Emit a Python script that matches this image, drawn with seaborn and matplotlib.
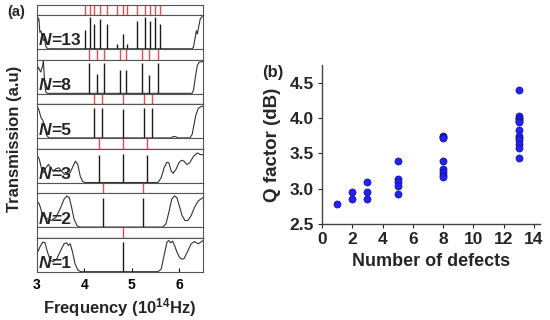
import numpy as np
import pandas as pd
import matplotlib
matplotlib.use("Agg")
import matplotlib.pyplot as plt
import seaborn as sns

# ---------------- data: panel (a) ----------------
row_labels = ["13", "8", "5", "3", "2", "1"]

# defect-mode peak positions (10^14 Hz) and relative heights
peak_f_13 = [4.02, 4.12, 4.21, 4.33, 4.47, 4.69, 4.81, 4.90, 5.10, 5.28, 5.39, 5.49, 5.59]
peak_h_13 = [0.58, 0.98, 0.75, 0.92, 0.75, 0.14, 0.46, 0.14, 0.85, 0.98, 0.85, 0.98, 0.75]
peak_f_8 = [4.09, 4.26, 4.42, 4.75, 4.87, 5.21, 5.36, 5.55]
peak_h_8 = [0.93, 0.59, 0.93, 0.70, 0.70, 0.94, 0.55, 0.94]
peak_f_5 = [4.21, 4.37, 4.81, 5.25, 5.42]
peak_h_5 = [0.90, 0.90, 0.87, 0.90, 0.90]
peak_f_3 = [4.30, 4.81, 5.32]
peak_h_3 = [0.85, 0.88, 0.85]
peak_f_2 = [4.40, 5.23]
peak_h_2 = [0.90, 0.90]
peak_f_1 = [4.81]
peak_h_1 = [0.90]

# band-edge transmission traces
curve_f_13 = [3.00, 3.02, 3.04, 3.06, 3.08, 3.10, 3.12, 3.14, 3.16, 3.18, 3.21, 3.24,
              6.27, 6.30, 6.33, 6.36, 6.38, 6.40, 6.44, 6.47, 6.50]
curve_t_13 = [0.70, 0.95, 0.90, 0.50, 0.55, 0.45, 0.40, 0.25, 0.30, 0.10, 0.02, 0.00,
              0.00, 0.05, 0.30, 0.55, 0.45, 0.60, 0.90, 0.97, 0.98]
curve_f_8 = [3.00, 3.03, 3.05, 3.08, 3.10, 3.12, 3.135, 3.15, 3.17, 3.19, 3.22,
             6.27, 6.30, 6.34, 6.38, 6.42, 6.50]
curve_t_8 = [0.70, 0.80, 0.72, 0.65, 0.75, 0.85, 1.00, 0.60, 0.20, 0.03, 0.00,
             0.00, 0.10, 0.50, 0.85, 0.95, 0.97]
curve_f_5 = [3.00, 3.03, 3.06, 3.09, 3.12, 3.15, 3.18, 3.21, 3.25,
             5.82, 5.87, 5.92, 5.97, 6.22, 6.27, 6.31, 6.35, 6.40, 6.45, 6.50]
curve_t_5 = [0.95, 0.90, 0.75, 0.60, 0.55, 0.40, 0.20, 0.07, 0.00,
             0.00, 0.04, 0.04, 0.00, 0.00, 0.10, 0.40, 0.70, 0.90, 0.95, 0.97]
curve_f_3 = [3.00, 3.05, 3.10, 3.14, 3.19, 3.24, 3.29, 3.34, 3.40, 3.46, 3.52, 3.58,
             3.64, 3.70, 3.76, 3.81, 3.86, 3.91, 3.96, 4.02,
             5.55, 5.62, 5.68, 5.74, 5.78, 5.83, 5.87, 5.93, 5.99, 6.05, 6.10, 6.16,
             6.22, 6.30, 6.38, 6.45, 6.50]
curve_t_3 = [0.85, 0.70, 0.40, 0.30, 0.45, 0.55, 0.45, 0.35, 0.42, 0.45, 0.35, 0.25,
             0.25, 0.30, 0.50, 0.65, 0.55, 0.20, 0.03, 0.00,
             0.00, 0.15, 0.45, 0.62, 0.60, 0.35, 0.28, 0.40, 0.60, 0.68, 0.65, 0.55,
             0.60, 0.80, 0.90, 0.85, 0.85]
curve_f_2 = [3.00, 3.05, 3.10, 3.16, 3.22, 3.30, 3.40, 3.50, 3.57, 3.63, 3.68, 3.73,
             3.78, 3.84, 3.90,
             5.65, 5.72, 5.78, 5.84, 5.90, 5.95, 6.00, 6.06, 6.12, 6.18, 6.25, 6.32,
             6.40, 6.50]
curve_t_2 = [0.80, 0.70, 0.45, 0.30, 0.25, 0.20, 0.30, 0.60, 0.85, 0.95, 0.90, 0.60,
             0.25, 0.05, 0.00,
             0.00, 0.10, 0.45, 0.85, 0.95, 0.90, 0.65, 0.35, 0.20, 0.20, 0.35, 0.60,
             0.80, 0.90]
curve_f_1 = [3.00, 3.06, 3.12, 3.17, 3.22, 3.28, 3.34, 3.42, 3.50, 3.57, 3.62, 3.66,
             3.70, 3.75, 3.80, 3.86, 3.92,
             5.55, 5.62, 5.68, 5.74, 5.78, 5.82, 5.86, 5.90, 5.95, 6.00, 6.05, 6.10,
             6.17, 6.25, 6.32, 6.40, 6.45, 6.50]
curve_t_1 = [0.55, 0.75, 0.90, 0.88, 0.60, 0.35, 0.30, 0.40, 0.65, 0.85, 0.88, 0.80,
             0.85, 0.60, 0.25, 0.05, 0.00,
             0.00, 0.08, 0.50, 0.90, 0.95, 0.88, 0.93, 0.80, 0.60, 0.45, 0.38, 0.40,
             0.60, 0.85, 0.92, 0.85, 0.90, 0.95]

peaks_f = [peak_f_13, peak_f_8, peak_f_5, peak_f_3, peak_f_2, peak_f_1]
peaks_h = [peak_h_13, peak_h_8, peak_h_5, peak_h_3, peak_h_2, peak_h_1]
curves_f = [curve_f_13, curve_f_8, curve_f_5, curve_f_3, curve_f_2, curve_f_1]
curves_t = [curve_t_13, curve_t_8, curve_t_5, curve_t_3, curve_t_2, curve_t_1]
red_base = [False, False, True, True, False, True]

freq_ticks = [3, 4, 5, 6]

# ---------------- data: panel (b) ----------------
defects_n = [1,
             2, 2,
             3, 3, 3,
             5, 5, 5, 5, 5,
             8, 8, 8, 8, 8, 8, 8, 8,
             13, 13, 13, 13, 13, 13, 13, 13, 13, 13, 13, 13, 13]
q_factor = [2.78,
            2.95, 2.86,
            3.09, 2.95, 2.85,
            3.39, 3.13, 3.09, 3.04, 2.93,
            3.75, 3.73, 3.71, 3.39, 3.28, 3.23, 3.19, 3.16,
            4.39, 4.03, 4.00, 3.98, 3.96, 3.94, 3.83, 3.75, 3.72, 3.69, 3.63, 3.57, 3.43]
defect_ticks = [0, 2, 4, 6, 8, 10, 12, 14]
q_ticks = [2.5, 3.0, 3.5, 4.0, 4.5]

# ---------------- style ----------------
sns.set_style("ticks")
plt.rcParams["font.family"] = ["Liberation Sans", "DejaVu Sans"]
plt.rcParams["font.weight"] = "bold"
plt.rcParams["mathtext.fontset"] = "custom"
plt.rcParams["mathtext.rm"] = "Liberation Sans:bold"
plt.rcParams["mathtext.default"] = "rm"

W, H = 550, 320
fig = plt.figure(figsize=(5.5, 3.2), dpi=100)


def fx(px):
    return px / W


def fy(py):
    return 1 - py / H


x0, x1 = 37, 203
top, bottom = 4.5, 272
rowh = (bottom - top) / 6
strip_h = 10.5
edge_col = "#555555"

for i, lab in enumerate(row_labels):
    yt = top + i * rowh
    # strip with defect markers
    axs = fig.add_axes([fx(x0), fy(yt + strip_h), fx(x1) - fx(x0), strip_h / H])
    axs.vlines(peaks_f[i], 0, 1, color="#e8383d", lw=1.0, alpha=0.9)
    axs.set_xlim(3, 6.5)
    axs.set_ylim(0, 1)
    axs.set_xticks([])
    axs.set_yticks([])
    for s in axs.spines.values():
        s.set_color(edge_col)
        s.set_linewidth(0.8)
    if red_base[i]:
        axs.spines["bottom"].set_color("#e8383d")
        axs.spines["bottom"].set_linewidth(1.0)

    # spectrum
    ax = fig.add_axes([fx(x0), fy(yt + rowh), fx(x1) - fx(x0), (rowh - strip_h) / H])
    sns.lineplot(x=curves_f[i], y=curves_t[i], ax=ax, color="#333333", lw=0.8,
                 sort=False, estimator=None)
    ax.vlines(peaks_f[i], 0, peaks_h[i], color="#1a1a1a", lw=1.0)
    ax.set_xlim(3, 6.5)
    ax.set_ylim(-0.01, 1.03)
    ax.set_yticks([])
    for s in ax.spines.values():
        s.set_color(edge_col)
        s.set_linewidth(0.8)
    tN = ax.text(0.01, 0.02, "N", transform=ax.transAxes, fontsize=12.5,
                 fontweight="bold", fontstyle="italic", ha="left", va="bottom")
    ax.annotate("=" + lab, xy=(1, 0), xycoords=tN, fontsize=12.5,
                fontweight="bold", ha="left", va="bottom")
    if i < 5:
        ax.set_xticks([])
    else:
        ax.set_xticks(freq_ticks)
        ax.set_xticklabels([str(t) for t in freq_ticks])
        ax.tick_params(axis="x", direction="in", length=3, width=0.8, pad=4,
                       labelsize=10, colors="black")
        for t in ax.get_xticklabels():
            t.set_fontweight("bold")
        ax.set_xlabel("Frequency (10$^{14}$Hz)", fontsize=12, fontweight="bold",
                      labelpad=3)

fig.text(fx(15), fy(139), "Transmission (a.u)", rotation=90, ha="center",
         va="center", fontsize=12, fontweight="bold")
fig.text(fx(7), fy(12), "(a)", ha="left", va="center", fontsize=10.5,
         fontweight="bold")

# ---------------- panel (b) ----------------
df = pd.DataFrame({"defects": defects_n, "q": q_factor})
axb = fig.add_axes([fx(322), fy(224), fx(540) - fx(322), (224 - 65) / H])
sns.scatterplot(data=df, x="defects", y="q", ax=axb, color="#2222f5",
                edgecolor="#10108f", linewidth=0.5, s=26, zorder=3)
axb.set_xlim(0, 14.4)
axb.set_ylim(2.5, 4.75)
axb.set_xticks(defect_ticks)
axb.set_yticks(q_ticks)
axb.set_yticklabels([f"{v:.1f}" for v in q_ticks])
axb.tick_params(direction="out", length=3, width=0.8, labelsize=12.5, pad=3)
for t in axb.get_xticklabels() + axb.get_yticklabels():
    t.set_fontweight("bold")
for side in ["top", "right"]:
    axb.spines[side].set_visible(False)
for side in ["left", "bottom"]:
    axb.spines[side].set_color("#444444")
    axb.spines[side].set_linewidth(1.0)
axb.set_xlabel("Number of defects", fontsize=13, fontweight="bold", labelpad=4)
axb.set_ylabel("Q factor (dB)", fontsize=13.5, fontweight="bold", labelpad=6)
fig.text(fx(262), fy(72), "(b)", ha="left", va="center", fontsize=12,
         fontweight="bold")

fig.savefig("out.png", dpi=100)
